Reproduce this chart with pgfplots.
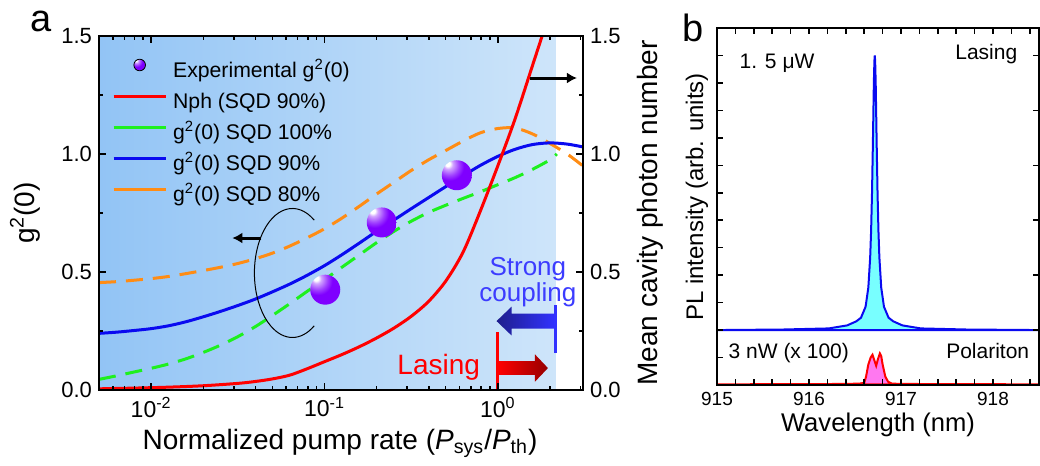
\documentclass[border=0pt]{standalone}
\usepackage{fontspec}
\setmainfont{Liberation Sans}
\usepackage{pgfplots}
\pgfplotsset{compat=1.18}
\usetikzlibrary{arrows.meta}
\definecolor{bgL}{RGB}{146,196,245}
\definecolor{bgR}{RGB}{206,229,250}
\definecolor{cgreen}{RGB}{30,240,30}
\definecolor{cblue}{RGB}{10,10,240}
\definecolor{corange}{RGB}{255,140,20}
\definecolor{cviolet}{RGB}{127,0,255}
\definecolor{ctext}{RGB}{60,60,255}
\definecolor{navyA}{RGB}{30,30,140}
\definecolor{brightB}{RGB}{50,50,255}
\definecolor{dred}{RGB}{150,0,0}
\definecolor{ccyan}{RGB}{120,255,255}
\definecolor{cpink}{RGB}{255,120,240}
\pgfdeclareradialshading{vball}{\pgfpoint{-16bp}{20bp}}{%
  color(0bp)=(white); color(4bp)=(white); color(8bp)=(cviolet!35!white);
  color(17bp)=(cviolet!75!white); color(24bp)=(cviolet); color(100bp)=(cviolet)}
\pgfdeclareplotmark{vball}{%
  \pgfpathcircle{\pgfpointorigin}{\pgfplotmarksize}%
  \pgfshadepath{vball}{0}%
  \pgfusepath{discard}}
\newcommand{\fs}[1]{\fontsize{#1}{#1}\selectfont}
\begin{document}
\begin{tikzpicture}
\useasboundingbox (0,0) rectangle (520pt,233pt);
% ---------------- panel a ----------------
\begin{axis}[
  at={(49.5pt,38pt)}, anchor=south west,
  scale only axis, width=242pt, height=177pt,
  xmode=log, xmin=0.005, xmax=3.1, ymin=0, ymax=1.5,
  xtick={0.01,0.1,1},
  xticklabels={10\textsuperscript{-2},10\textsuperscript{-1},10\textsuperscript{0}},
  minor xtick={0.006,0.007,0.008,0.009,0.02,0.03,0.04,0.05,0.06,0.07,0.08,0.09,0.2,0.3,0.4,0.5,0.6,0.7,0.8,0.9,2,3},
  ytick={0,0.5,1,1.5}, yticklabels={0.0,0.5,1.0,1.5},
  minor ytick={0.25,0.75,1.25},
  ytick pos=left, xtick pos=both, tick align=inside,
  axis line style={line width=1pt}, tick style={line width=0.8pt, black},
  major tick length=3.5pt, minor tick length=2pt,
  xticklabel style={font=\fs{11.5}},
  yticklabel style={font=\fs{11}},
  xlabel={Normalized pump rate (\textit{P}\textsubscript{sys}/\textit{P}\textsubscript{th})},
  xlabel style={font=\fs{14}, at={(axis description cs:0.498,-0.15)}, anchor=center},
  ylabel={g\textsuperscript{2}(0)},
  ylabel style={font=\fs{14}, at={(axis description cs:-0.153,0.5)}, anchor=center},
  axis on top,
  legend image code/.code={\draw[#1] (0pt,3.2pt) -- (26pt,3.2pt);},
  legend style={at={(rel axis cs:0.014,0.948)}, anchor=north west, draw=none, fill=none,
     font=\fs{10.6}, row sep=5.5pt, column sep=3pt,
     nodes={inner sep=0pt, text height=7.5pt, text depth=2.5pt}},
  legend cell align=left,
]
\addlegendimage{legend image code/.code={\shade[shading=vball] (13pt,3.5pt) circle (2.9pt);}}
\addlegendimage{red, line width=1.5pt}
\addlegendimage{cgreen, line width=1.5pt}
\addlegendimage{cblue, line width=1.5pt}
\addlegendimage{corange, line width=1.5pt}
\legend{Experimental g\textsuperscript{2}(0), Nph (SQD 90\%), g\textsuperscript{2}(0) SQD 100\%, g\textsuperscript{2}(0) SQD 90\%, g\textsuperscript{2}(0) SQD 80\%}

\fill[left color=bgL, right color=bgR] (axis cs:0.005,0) rectangle (axis cs:2.165,1.5);

% experimental points
\addplot[forget plot, only marks, mark=vball, mark size=7.5pt]
  coordinates {(0.101,0.425) (0.214,0.71) (0.58,0.91)};

% SQD 100% (green dashed)
\addplot[forget plot, cgreen, line width=1.5pt, dash pattern=on 8.5pt off 5pt, smooth]
  coordinates {(0.005,0.045) (0.00631,0.06) (0.00794,0.076) (0.01,0.092) (0.01259,0.11)
  (0.01585,0.132) (0.01995,0.159) (0.02512,0.19) (0.03162,0.226) (0.03981,0.268)
  (0.05012,0.316) (0.0631,0.366) (0.07943,0.418) (0.1,0.468) (0.1259,0.52) (0.1585,0.572)
  (0.1995,0.624) (0.2512,0.672) (0.3162,0.715) (0.3981,0.752) (0.5012,0.783) (0.631,0.812)
  (0.7943,0.84) (1,0.87) (1.259,0.9) (1.585,0.935) (1.995,0.975) (2.19,1.0)};
% SQD 80% (orange dashed)
\addplot[forget plot, corange, line width=1.5pt, dash pattern=on 8.5pt off 5pt, smooth]
  coordinates {(0.005,0.455) (0.00631,0.459) (0.00794,0.465) (0.01,0.472) (0.01259,0.481)
  (0.01585,0.493) (0.01995,0.506) (0.02512,0.52) (0.03162,0.536) (0.03981,0.556)
  (0.05012,0.58) (0.0631,0.61) (0.07943,0.645) (0.1,0.683) (0.1259,0.728) (0.1585,0.778)
  (0.1995,0.83) (0.2512,0.88) (0.3162,0.93) (0.3981,0.975) (0.5012,1.015) (0.631,1.055)
  (0.7943,1.09) (1,1.108) (1.259,1.11) (1.585,1.085) (1.995,1.045) (2.512,1.0) (3.09,0.95)};
% SQD 90% (blue)
\addplot[forget plot, cblue, line width=1.5pt, smooth]
  coordinates {(0.005,0.24) (0.00631,0.245) (0.00794,0.252) (0.01,0.26) (0.01259,0.272)
  (0.01585,0.289) (0.01995,0.31) (0.02512,0.333) (0.03162,0.358) (0.03981,0.385)
  (0.05012,0.416) (0.0631,0.449) (0.07943,0.486) (0.1,0.527) (0.1259,0.573) (0.1585,0.622)
  (0.1995,0.672) (0.2512,0.72) (0.3162,0.768) (0.3981,0.815) (0.5012,0.862) (0.631,0.908)
  (0.7943,0.952) (1,0.99) (1.259,1.02) (1.585,1.04) (1.995,1.047) (2.512,1.042) (3.09,1.03)};
% Nph (red)
\addplot[forget plot, red, line width=1.5pt, smooth]
  coordinates {(0.005,0.005) (0.00794,0.008) (0.01259,0.012) (0.01995,0.018) (0.03162,0.028)
  (0.03981,0.036) (0.05012,0.047) (0.0631,0.063) (0.07943,0.09) (0.1,0.12) (0.1259,0.15)
  (0.1585,0.183) (0.1995,0.22) (0.2512,0.262) (0.3162,0.312) (0.3981,0.375) (0.5012,0.462)
  (0.631,0.585) (0.7943,0.76) (1,0.95) (1.259,1.15) (1.585,1.375) (1.995,1.6)};

% annotations
\draw[line width=0.5pt] (axis cs:0.0653,0.496) ++(10.9pt,26.4pt)
   arc[start angle=55, end angle=305, x radius=19pt, y radius=32.25pt];
\draw[-{Latex[length=5pt,width=5.5pt]}, line width=1.5pt] (axis cs:0.0432,0.644) -- (axis cs:0.0294,0.644);
\draw[-{Latex[length=5pt,width=5.5pt]}, line width=1.5pt] (axis cs:1.531,1.322) -- (axis cs:2.86,1.322);

\shade[left color=navyA, right color=brightB] (axis cs:0.983,0.292) -- (axis cs:1.2,0.353)
  -- (axis cs:1.2,0.324) -- (axis cs:2.14,0.324) -- (axis cs:2.14,0.260) -- (axis cs:1.2,0.260)
  -- (axis cs:1.2,0.231) -- cycle;
\draw[brightB, line width=1.5pt] (axis cs:2.14,0.157) -- (axis cs:2.14,0.36);
\node[ctext, font=\fs{13}, anchor=base] at (axis cs:1.49,0.487) {Strong};
\node[ctext, font=\fs{13}, anchor=base] at (axis cs:1.49,0.373) {coupling};

\draw[red, line width=1.5pt] (axis cs:1,0) -- (axis cs:1,0.246);
\shade[left color=red, right color=dred] (axis cs:1,0.122) -- (axis cs:1.637,0.122)
  -- (axis cs:1.637,0.151) -- (axis cs:1.945,0.093) -- (axis cs:1.637,0.035)
  -- (axis cs:1.637,0.064) -- (axis cs:1,0.064) -- cycle;
\node[red, font=\fs{14}, anchor=base] at (axis cs:0.456,0.064) {Lasing};
\end{axis}
% right axis of panel a
\begin{axis}[
  at={(49.5pt,38pt)}, anchor=south west,
  scale only axis, width=242pt, height=177pt,
  xmode=log, xmin=0.005, xmax=3.1, ymin=0, ymax=1.5,
  hide x axis,
  ytick={0,0.5,1,1.5}, yticklabels={0.0,0.5,1.0,1.5},
  minor ytick={0.25,0.75,1.25},
  ytick pos=right, tick align=inside,
  axis line style={line width=1pt}, tick style={line width=0.8pt, black},
  major tick length=3.5pt, minor tick length=2pt,
  yticklabel style={font=\fs{11}},
  ylabel={Mean cavity photon number},
  ylabel style={font=\fs{14}, at={(axis description cs:1.138,0.5)}, anchor=center},
]
\addplot[draw=none] coordinates {(0.01,0)};
\end{axis}
% ---------------- panel b ----------------
\begin{axis}[
  at={(358.5pt,40.5pt)}, anchor=south west,
  scale only axis, width=161pt, height=178.5pt,
  xmin=915, xmax=918.5, ymin=0, ymax=13,
  xtick={915,916,917,918}, xticklabels={915,916,917,918},
  minor xtick={915.2,915.4,915.6,915.8,916.2,916.4,916.6,916.8,917.2,917.4,917.6,917.8,918.2,918.4},
  ytick={0,1,2,3,4,5,6,7,8,9,10,11,12,13}, yticklabels={},
  ytick pos=left, xtick pos=both, tick align=inside,
  axis line style={line width=1pt}, tick style={line width=0.8pt, black},
  major tick length=3pt, minor tick length=3pt,
  xticklabel style={font=\fs{9.5}},
  xlabel={Wavelength (nm)},
  xlabel style={font=\fs{12.8}, at={(axis description cs:0.5,-0.112)}, anchor=center},
  ylabel={PL intensity (arb. units)},
  ylabel style={font=\fs{12}, at={(axis description cs:-0.062,0.527)}, anchor=center},
  axis on top,
]
\addplot[cblue, line width=1pt, fill=ccyan] coordinates {
 (915.0,2.0) (915.715,2.02) (916.215,2.06) (916.415,2.17) (916.515,2.32) (916.565,2.45)
 (916.615,2.85) (916.645,3.55) (916.665,4.65) (916.675,5.6) (916.685,7.0) (916.695,8.9)
 (916.705,11.0) (916.711,11.8) (916.715,12.0) (916.719,11.8) (916.725,11.0) (916.735,8.9)
 (916.745,7.0) (916.755,5.6) (916.765,4.65) (916.785,3.55) (916.815,2.85) (916.865,2.45)
 (916.915,2.32) (917.015,2.17) (917.215,2.06) (917.715,2.02) (918.5,2.0)} -- cycle;
\addplot[red, line width=1pt, fill=cpink] coordinates {
 (915.0,0.02) (915.5,0.03) (916.0,0.03) (916.4,0.04) (916.55,0.05) (916.60,0.08)
 (916.62,0.3) (916.645,0.75) (916.67,1.0) (916.69,1.1) (916.705,0.95) (916.73,0.7)
 (916.75,0.95) (916.77,1.15) (916.785,1.05) (916.80,0.75) (916.83,0.3) (916.86,0.12)
 (916.9,0.05) (917.0,0.04) (917.5,0.03) (918.0,0.03) (918.5,0.02)} -- cycle;
\node[font=\fs{10.5}, anchor=base west] at (axis cs:915.17,11.53) {1. 5 μW};
\node[font=\fs{10.5}, anchor=base east] at (axis cs:918.34,11.85) {Lasing};
\node[font=\fs{10.5}, anchor=base west] at (axis cs:915.05,0.98) {3 nW (x 100)};
\node[font=\fs{10.5}, anchor=base east] at (axis cs:918.47,0.98) {Polariton};
\end{axis}
\begin{axis}[
  at={(358.5pt,40.5pt)}, anchor=south west,
  scale only axis, width=161pt, height=178.5pt,
  xmin=915, xmax=918.5, ymin=0, ymax=13,
  hide x axis,
  ytick={2,4,6,8,10,12}, yticklabels={},
  ytick pos=right, tick align=inside,
  axis line style={line width=1pt}, tick style={line width=0.8pt, black},
  major tick length=3pt,
]
\addplot[draw=none] coordinates {(916,1)};
\end{axis}
\node[font=\fs{19}, anchor=base west] at (11.5pt,217pt) {a};
\node[font=\fs{19}, anchor=base west] at (337.5pt,212pt) {b};
\end{tikzpicture}
\end{document}
